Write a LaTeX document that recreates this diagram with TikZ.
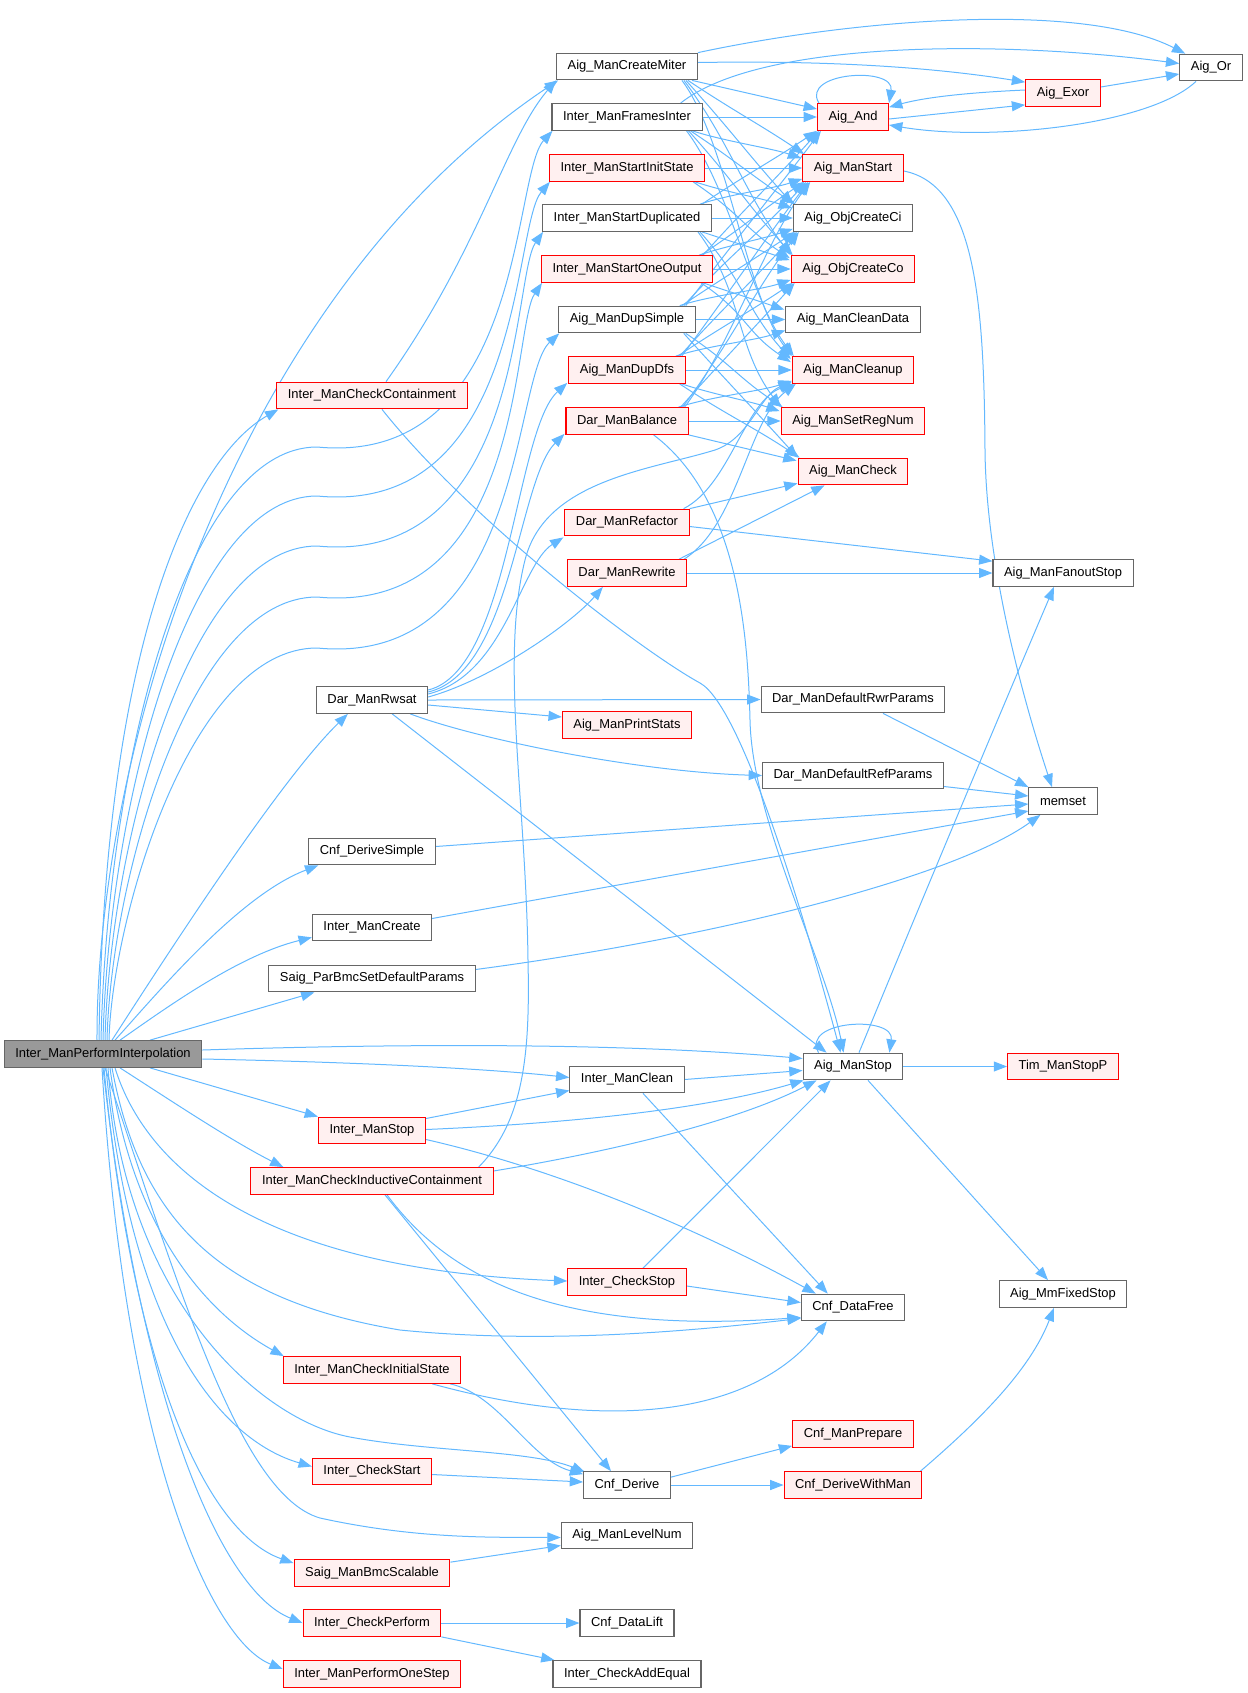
\documentclass[tikz,border=0pt]{standalone}
\usepackage{fontspec}
\setmainfont{Liberation Sans}
\usetikzlibrary{arrows.meta,calc}
\definecolor{edgeblue}{HTML}{63B8FF}
\definecolor{nodegray}{HTML}{666666}
\definecolor{rootfill}{HTML}{999999}
\definecolor{pinkfill}{HTML}{FFF0F0}
\definecolor{redb}{HTML}{FF0000}
\pgfdeclarelayer{bg}
\pgfsetlayers{bg,main}
\begin{document}
\begin{tikzpicture}[x=0.75pt,y=-0.75pt,
  base/.style={rectangle, minimum height=20pt, inner xsep=8.3pt, inner ysep=1pt, line width=0.8pt, font={\fontsize{9.7pt}{11pt}\selectfont}, text=black},
  gn/.style={base, draw=nodegray, fill=white},
  rn/.style={base, draw=redb, fill=pinkfill},
  rootn/.style={base, draw=nodegray, fill=rootfill},
  ed/.style={draw=edgeblue, line width=0.75pt, -{Triangle[length=10pt,width=7.5pt]}}
]
\path[use as bounding box] (0,0) rectangle (1248,1693);

% column 1
\node[rootn] (R) at (103,1054) {Inter\_ManPerformInterpolation};
% column 2
\node[rn] (CC) at (372,395.5) {Inter\_ManCheckContainment};
\node[gn] (RW) at (372,700) {Dar\_ManRwsat};
\node[gn] (DS) at (372,851.5) {Cnf\_DeriveSimple};
\node[gn] (MC) at (372,927.5) {Inter\_ManCreate};
\node[gn] (PB) at (372,978.5) {Saig\_ParBmcSetDefaultParams};
\node[rn] (MS) at (372,1130.5) {Inter\_ManStop};
\node[rn] (ICC) at (372,1181) {Inter\_ManCheckInductiveContainment};
\node[rn] (CIS) at (372,1370) {Inter\_ManCheckInitialState};
\node[rn] (CS) at (372,1471.5) {Inter\_CheckStart};
\node[rn] (BS) at (372,1573) {Saig\_ManBmcScalable};
\node[rn] (CP) at (372,1623) {Inter\_CheckPerform};
\node[rn] (POS) at (372,1674) {Inter\_ManPerformOneStep};
% column 3
\node[gn] (CM) at (627,66.5) {Aig\_ManCreateMiter};
\node[gn] (FI) at (627,117) {Inter\_ManFramesInter};
\node[rn] (SIS) at (627,168) {Inter\_ManStartInitState};
\node[gn] (SD) at (627,218) {Inter\_ManStartDuplicated};
\node[rn] (SOO) at (627,269) {Inter\_ManStartOneOutput};
\node[gn] (DSi) at (627,319.5) {Aig\_ManDupSimple};
\node[rn] (DD) at (627,370) {Aig\_ManDupDfs};
\node[rn] (BAL) at (627,421) {Dar\_ManBalance};
\node[rn] (REF) at (627,522.5) {Dar\_ManRefactor};
\node[rn] (REW) at (627,573) {Dar\_ManRewrite};
\node[rn] (PS) at (627,725) {Aig\_ManPrintStats};
\node[gn] (CL) at (627,1079.5) {Inter\_ManClean};
\node[rn] (CST) at (627,1282) {Inter\_CheckStop};
\node[gn] (CD) at (627,1485) {Cnf\_Derive};
\node[gn] (LN) at (627,1535.5) {Aig\_ManLevelNum};
\node[gn] (DL) at (627,1623) {Cnf\_DataLift};
\node[gn] (AE) at (627,1674) {Inter\_CheckAddEqual};
% column 4
\node[rn] (AND) at (853,117) {Aig\_And};
\node[rn] (MST) at (853,168) {Aig\_ManStart};
\node[gn] (OCI) at (853,218) {Aig\_ObjCreateCi};
\node[rn] (OCO) at (853,269) {Aig\_ObjCreateCo};
\node[gn] (CLD) at (853,319.5) {Aig\_ManCleanData};
\node[rn] (CLU) at (853,370) {Aig\_ManCleanup};
\node[rn] (SRN) at (853,421) {Aig\_ManSetRegNum};
\node[rn] (CHK) at (853,471.5) {Aig\_ManCheck};
\node[gn] (RWP) at (853,699.5) {Dar\_ManDefaultRwrParams};
\node[gn] (RFP) at (853,775.5) {Dar\_ManDefaultRefParams};
\node[gn] (STOP) at (853,1066.5) {Aig\_ManStop};
\node[gn] (DF) at (853,1307.5) {Cnf\_DataFree};
\node[rn] (MP) at (853,1434) {Cnf\_ManPrepare};
\node[rn] (DWM) at (853,1485) {Cnf\_DeriveWithMan};
% column 5/6
\node[rn] (EXOR) at (1063,93) {Aig\_Exor};
\node[gn] (FS) at (1063,573) {Aig\_ManFanoutStop};
\node[gn] (MEM) at (1063,801) {memset};
\node[rn] (TIM) at (1063,1066.5) {Tim\_ManStopP};
\node[gn] (MM) at (1063,1294) {Aig\_MmFixedStop};
\node[gn] (OR) at (1211,67.5) {Aig\_Or};

\begin{pgfonlayer}{bg}
% ---- root edges
\draw[ed] ($(R.north)+(-6,0)$) .. controls (96,760) and (230,300) .. ($(CM.south west)+(2,0)$);
\draw[ed] ($(R.north)+(-4,0)$) .. controls (104,650) and (190,460) .. ($(CC.south west)+(2,0)$);
\draw[ed] ($(R.north)+(-2,0)$) .. controls (108,750) and (190,447) .. (317,447) .. controls (525,467) and (512,175) .. ($(FI.south west)+(1,0)$);
\draw[ed] ($(R.north)+(0,0)$) .. controls (109,800) and (190,496) .. (317,496) .. controls (525,516) and (512,226) .. ($(SIS.south west)+(1,0)$);
\draw[ed] ($(R.north)+(2,0)$) .. controls (110,840) and (190,546) .. (317,546) .. controls (525,566) and (512,276) .. ($(SD.south west)+(1,0)$);
\draw[ed] ($(R.north)+(4,0)$) .. controls (111,880) and (190,597) .. (317,597) .. controls (525,617) and (512,327) .. ($(SOO.south west)+(1,0)$);
\draw[ed] ($(R.north)+(6,0)$) .. controls (112,920) and (190,648) .. (317,648) .. controls (525,668) and (512,377) .. ($(DSi.south west)+(1,0)$);
\draw[ed] ($(R.north)+(9,0)$) .. controls (170,950) and (280,780) .. ($(RW.south west)+(32,0)$);
\draw[ed] ($(R.north)+(12,0)$) .. controls (160,990) and (240,895) .. ($(DS.south west)+(10,0)$);
\draw[ed] ($(R.north)+(17,0)$) .. controls (170,1005) and (240,955) .. ($(MC.south west)+(0,-4)$);
\draw[ed] ($(R.north)+(47,0)$) -- ($(PB.south west)+(46,0)$);
\draw[ed] ($(R.east)+(0,-4)$) .. controls (450,1042) and (650,1045) .. ($(STOP.west)+(0,-8)$);
\draw[ed] ($(R.east)+(0,5)$) .. controls (350,1062) and (480,1068) .. ($(CL.west)+(0,-2)$);
\draw[ed] ($(R.south)+(47,0)$) -- (MS.north west);
\draw[ed] ($(R.south)+(17,0)$) .. controls (170,1100) and (230,1140) .. ($(ICC.north west)+(33,0)$);
\draw[ed] ($(R.south)+(12,0)$) .. controls (150,1180) and (280,1270) .. ($(CST.west)+(0,-1)$);
\draw[ed] ($(R.south)+(9,0)$) .. controls (140,1220) and (220,1300) .. (400,1330) .. controls (550,1345) and (700,1330) .. ($(DF.south west)+(0,-3)$);
\draw[ed] ($(R.south)+(7,0)$) .. controls (130,1220) and (200,1310) .. ($(CIS.north west)+(1,0)$);
\draw[ed] ($(R.south)+(5,0)$) .. controls (125,1300) and (260,1420) .. (350,1437) .. controls (430,1452) and (530,1450) .. ($(CD.north west)+(2,1)$);
\draw[ed] ($(R.south)+(3,0)$) .. controls (130,1330) and (220,1440) .. ($(CS.west)+(0,-5)$);
\draw[ed] ($(R.south)+(2,0)$) .. controls (180,1290) and (240,1495) .. (320,1518) .. controls (420,1540) and (500,1537) .. ($(LN.west)+(0,2)$);
\draw[ed] ($(R.south)+(1,0)$) .. controls (130,1350) and (200,1530) .. ($(BS.north west)+(0,4)$);
\draw[ed] ($(R.south)+(0,0)$) .. controls (140,1400) and (220,1590) .. (CP.west);
\draw[ed] ($(R.south)+(-1,0)$) .. controls (125,1450) and (210,1640) .. ($(POS.west)+(0,-5)$);

% ---- column 2 sources
\draw[ed] ($(CC.north)+(14,0)$) .. controls (480,250) and (505,140) .. ($(CM.south west)+(0,0)$);
\draw[ed] ($(CC.south)+(10,0)$) .. controls (470,520) and (640,650) .. (700,683) .. controls (740,705) and (800,900) .. ($(STOP.north west)+(38,0)$);
\draw[ed] ($(RW.south east)+(-36,0)$) -- ($(STOP.north west)+(24,0)$);
\draw[ed] ($(RW.east)+(0,-10)$) .. controls (510,670) and (515,430) .. ($(DD.south west)+(-1,-1)$);
\draw[ed] ($(RW.east)+(0,-8)$) .. controls (512,672) and (518,480) .. ($(BAL.south west)+(-1,-1)$);
\draw[ed] ($(RW.east)+(0,-6)$) .. controls (505,675) and (520,565) .. ($(REF.south west)+(-1,1)$);
\draw[ed] ($(RW.east)+(0,-3)$) .. controls (490,680) and (570,625) .. ($(REW.south west)+(36,0)$);
\draw[ed] (RW.east) -- (RWP.west);
\draw[ed] ($(RW.east)+(0,5)$) -- ($(PS.west)+(0,-8)$);
\draw[ed] ($(RW.south east)+(-18,0)$) .. controls (480,740) and (640,772) .. (RFP.west);
\draw[ed] ($(DS.east)+(0,-5)$) -- ($(MEM.west)+(0,3)$);
\draw[ed] ($(MC.east)+(0,-9)$) -- ($(MEM.west)+(0,10)$);
\draw[ed] ($(PB.east)+(0,-9)$) .. controls (700,940) and (950,880) .. ($(MEM.south west)+(12,0)$);
\draw[ed] ($(MS.east)+(0,-12)$) -- ($(CL.west)+(0,11)$);
\draw[ed] ($(MS.east)+(0,-1)$) .. controls (600,1122) and (720,1105) .. ($(STOP.south west)+(1,0)$);
\draw[ed] ($(MS.east)+(0,9)$) .. controls (560,1170) and (700,1230) .. ($(DF.north west)+(15,0)$);
\draw[ed] ($(ICC.east)+(0,-10)$) .. controls (620,1150) and (740,1120) .. ($(STOP.south west)+(14,0)$);
\draw[ed] ($(ICC.south)+(13,0)$) -- ($(CD.north)+(-16,0)$);
\draw[ed] ($(ICC.south)+(15,0)$) .. controls (450,1280) and (560,1335) .. ($(DF.south west)+(0,-4)$);
\draw[ed] ($(ICC.north east)+(-15,0)$) .. controls (525,1120) and (530,1050) .. (528,960) .. controls (526,800) and (500,660) .. (525,560) .. controls (545,480) and (650,470) .. (715,450) .. controls (750,438) and (760,395) .. ($(CLU.south west)+(0,-2)$);
\draw[ed] ($(CIS.south east)+(-11,0)$) .. controls (500,1395) and (530,1460) .. ($(CD.north west)+(0,3)$);
\draw[ed] ($(CIS.south east)+(-29,0)$) .. controls (600,1430) and (750,1420) .. ($(DF.south west)+(26,0)$);
\draw[ed] ($(CS.east)+(0,3)$) -- ($(CD.west)+(0,-3)$);
\draw[ed] ($(BS.north east)+(0,3)$) -- ($(LN.west)+(0,10)$);
\draw[ed] (CP.east) -- (DL.west);
\draw[ed] (CP.south east) -- ($(AE.north west)+(2,0)$);

% ---- column 3 sources (lower)
\draw[ed] (CL.east) -- ($(STOP.west)+(0,4)$);
\draw[ed] ($(CL.south)+(16,0)$) -- ($(DF.north west)+(27,0)$);
\draw[ed] ($(CST.north)+(16,0)$) -- ($(STOP.south west)+(28,0)$);
\draw[ed] ($(CST.east)+(0,4)$) -- ($(DF.west)+(0,-5)$);
\draw[ed] ($(CD.north east)+(0,6)$) -- ($(MP.south west)+(0,-2)$);
\draw[ed] (CD.east) -- (DWM.west);
\draw[ed] ($(DWM.north east)+(-2,0)$) .. controls (980,1420) and (1030,1370) .. ($(MM.south)+(-9,0)$);

% ---- Aig_ManStop
\draw[ed] (STOP.east) -- (TIM.west);
\draw[ed] ($(STOP.south)+(15,0)$) -- ($(MM.north)+(-15,0)$);
\draw[ed] ($(STOP.north)+(6,0)$) .. controls (930,880) and (1010,690) .. ($(FS.south)+(-9,0)$);
\draw[ed] ($(STOP.north west)+(16,0)$) .. controls (800,1020) and (895,1015) .. ($(STOP.north east)+(-14,0)$);

% ---- top right
\draw[ed] ($(AND.north west)+(2,0)$) .. controls (800,72) and (895,66) .. ($(AND.north east)+(0,0)$);
\draw[ed] ($(AND.east)+(0,2)$) -- ($(EXOR.south west)+(0,-2)$);
\draw[ed] ($(EXOR.west)+(0,-3)$) .. controls (980,92) and (930,96) .. ($(AND.north east)+(0,4)$);
\draw[ed] ($(EXOR.east)+(0,-6)$) -- ($(OR.west)+(0,6.5)$);
\draw[ed] ($(OR.south)+(-15,0)$) .. controls (1150,125) and (990,142) .. ($(AND.east)+(0,8)$);
\draw[ed] (CM.north east) .. controls (850,20) and (1080,0) .. ($(OR.north west)+(6,0)$);
\draw[ed] ($(FI.north east)+(-22,0)$) .. controls (760,40) and (1000,40) .. ($(OR.west)+(0,-4)$);
\draw[ed] ($(CM.east)+(0,-4)$) .. controls (850,60) and (950,70) .. ($(EXOR.north west)+(0,3)$);
\draw[ed] ($(CM.south east)+(-6,0)$) -- ($(AND.west)+(0,-8)$);
\draw[ed] (FI.east) -- (AND.west);

% ---- Aig_ManStart -> memset and params
\draw[ed] ($(MST.east)+(0,3)$) .. controls (975,185) and (984,300) .. (985,450) .. controls (986,560) and (1020,690) .. ($(MEM.north)+(-11,0)$);
\draw[ed] ($(RWP.south)+(30,0)$) -- (MEM.north west);
\draw[ed] ($(RFP.east)+(0,11)$) -- ($(MEM.west)+(0,-5)$);

% ---- CreateMiter down
\draw[ed] ($(CM.south east)+(-10,0)$) .. controls +(45,30) and +(-45,-30) .. ($(MST.north west)+(2,0)$);
\draw[ed] ($(CM.south east)+(-12,0)$) .. controls +(45,50) and +(-45,-50) .. (OCI.north west);
\draw[ed] ($(CM.south east)+(-14,0)$) .. controls +(45,60) and +(-45,-60) .. (OCO.north west);
\draw[ed] ($(CM.south east)+(-16,0)$) .. controls +(45,60) and +(-45,-60) .. (CLU.north west);
% FramesInter
\draw[ed] ($(FI.south east)+(-10,0)$) .. controls +(30,10) and +(-30,-10) .. ($(MST.north west)+(-1,4)$);
\draw[ed] ($(FI.south east)+(-12,0)$) .. controls +(45,30) and +(-45,-30) .. ($(OCI.north west)+(2,0)$);
\draw[ed] ($(FI.south east)+(-14,0)$) .. controls +(45,50) and +(-45,-50) .. ($(OCO.north west)+(2,0)$);
\draw[ed] ($(FI.south east)+(-16,0)$) .. controls +(45,60) and +(-45,-60) .. ($(CLU.north west)+(2,0)$);
% StartInitState
\draw[ed] (SIS.east) -- (MST.west);
\draw[ed] ($(SIS.south east)+(-10,0)$) .. controls +(30,10) and +(-30,-10) .. ($(OCI.north west)+(-1,4)$);
\draw[ed] ($(SIS.south east)+(-12,0)$) .. controls +(45,30) and +(-45,-30) .. ($(OCO.north west)+(-1,3)$);
% StartDuplicated
\draw[ed] ($(SD.north east)+(-10,0)$) .. controls +(45,-30) and +(-45,30) .. (AND.south west);
\draw[ed] ($(SD.north east)+(-12,0)$) .. controls +(30,-10) and +(-30,10) .. ($(MST.south west)+(0,-3)$);
\draw[ed] (SD.east) -- (OCI.west);
\draw[ed] ($(SD.south east)+(-10,0)$) .. controls +(30,10) and +(-30,-10) .. ($(OCO.north west)+(-1,5)$);
\draw[ed] ($(SD.south east)+(-12,0)$) .. controls +(45,50) and +(-45,-50) .. ($(CLU.north west)+(-1,3)$);
\draw[ed] ($(SD.south east)+(-14,0)$) .. controls +(45,60) and +(-45,-60) .. (SRN.north west);
% StartOneOutput
\draw[ed] ($(SOO.north east)+(-10,0)$) .. controls +(45,-50) and +(-45,50) .. ($(AND.south west)+(2,0)$);
\draw[ed] ($(SOO.north east)+(-12,0)$) .. controls +(45,-30) and +(-45,30) .. ($(MST.south west)+(2,0)$);
\draw[ed] ($(SOO.north east)+(-14,0)$) .. controls +(30,-10) and +(-30,10) .. ($(OCI.south west)+(0,-3)$);
\draw[ed] (SOO.east) -- (OCO.west);
\draw[ed] ($(SOO.south east)+(-10,0)$) .. controls +(30,10) and +(-30,-10) .. ($(CLD.north west)+(-1,4)$);
\draw[ed] ($(SOO.south east)+(-12,0)$) .. controls +(45,30) and +(-45,-30) .. ($(CLU.north west)+(-1,6)$);
% DupSimple
\draw[ed] ($(DSi.north east)+(-10,0)$) .. controls +(45,-60) and +(-45,60) .. ($(AND.south west)+(4,0)$);
\draw[ed] ($(DSi.north east)+(-12,0)$) .. controls +(45,-50) and +(-45,50) .. ($(MST.south west)+(4,0)$);
\draw[ed] ($(DSi.north east)+(-14,0)$) .. controls +(45,-30) and +(-45,30) .. ($(OCI.south west)+(2,0)$);
\draw[ed] ($(DSi.north east)+(-16,0)$) .. controls +(30,-10) and +(-30,10) .. ($(OCO.south west)+(0,-3)$);
\draw[ed] (DSi.east) -- (CLD.west);
\draw[ed] ($(DSi.south east)+(-10,0)$) .. controls +(45,30) and +(-45,-30) .. ($(SRN.north west)+(2,0)$);
\draw[ed] ($(DSi.south east)+(-12,0)$) .. controls +(45,50) and +(-45,-50) .. (CHK.north west);
% DupDfs
\draw[ed] ($(DD.north east)+(-4,0)$) .. controls +(45,-60) and +(-45,60) .. ($(MST.south west)+(6,0)$);
\draw[ed] ($(DD.north east)+(-6,0)$) .. controls +(45,-50) and +(-45,50) .. ($(OCI.south west)+(4,0)$);
\draw[ed] ($(DD.north east)+(-8,0)$) .. controls +(45,-30) and +(-45,30) .. ($(OCO.south west)+(2,0)$);
\draw[ed] ($(DD.north east)+(-10,0)$) .. controls +(30,-10) and +(-30,10) .. ($(CLD.south west)+(0,-3)$);
\draw[ed] (DD.east) -- (CLU.west);
\draw[ed] ($(DD.south east)+(-4,0)$) .. controls +(30,10) and +(-30,-10) .. ($(SRN.north west)+(-1,4)$);
\draw[ed] ($(DD.south east)+(-6,0)$) .. controls +(45,30) and +(-45,-30) .. ($(CHK.north west)+(2,0)$);
% Balance
\draw[ed] ($(BAL.north east)+(-4,0)$) .. controls +(45,-60) and +(-45,60) .. ($(MST.south west)+(8,0)$);
\draw[ed] ($(BAL.north east)+(-6,0)$) .. controls +(45,-60) and +(-45,60) .. ($(OCI.south west)+(6,0)$);
\draw[ed] ($(BAL.north east)+(-8,0)$) .. controls +(45,-50) and +(-45,50) .. ($(OCO.south west)+(4,0)$);
\draw[ed] ($(BAL.north east)+(-10,0)$) .. controls +(30,-10) and +(-30,10) .. ($(CLU.south west)+(0,-3)$);
\draw[ed] (BAL.east) -- (SRN.west);
\draw[ed] (BAL.south east) -- ($(CHK.north west)+(-1,3)$);
\draw[ed] ($(BAL.south east)+(-35,0)$) .. controls (740,500) and (748,640) .. (750,720) .. controls (752,820) and (825,960) .. ($(STOP.north west)+(41,0)$);
% Refactor / Rewrite
\draw[ed] (REF.north east) -- ($(CHK.south west)+(0,-2)$);
\draw[ed] ($(REF.north east)+(-6,0)$) .. controls (730,485) and (745,400) .. ($(CLU.south west)+(2,0)$);
\draw[ed] ($(REF.east)+(0,4)$) -- ($(FS.north west)+(0,2)$);
\draw[ed] ($(REW.north east)+(-8,0)$) -- ($(CHK.south west)+(27,0)$);
\draw[ed] ($(REW.north east)+(-3,0)$) .. controls (738,525) and (748,420) .. ($(CLU.south west)+(4,0)$);
\draw[ed] (REW.east) -- (FS.west);
\end{pgfonlayer}
\end{tikzpicture}
\end{document}
